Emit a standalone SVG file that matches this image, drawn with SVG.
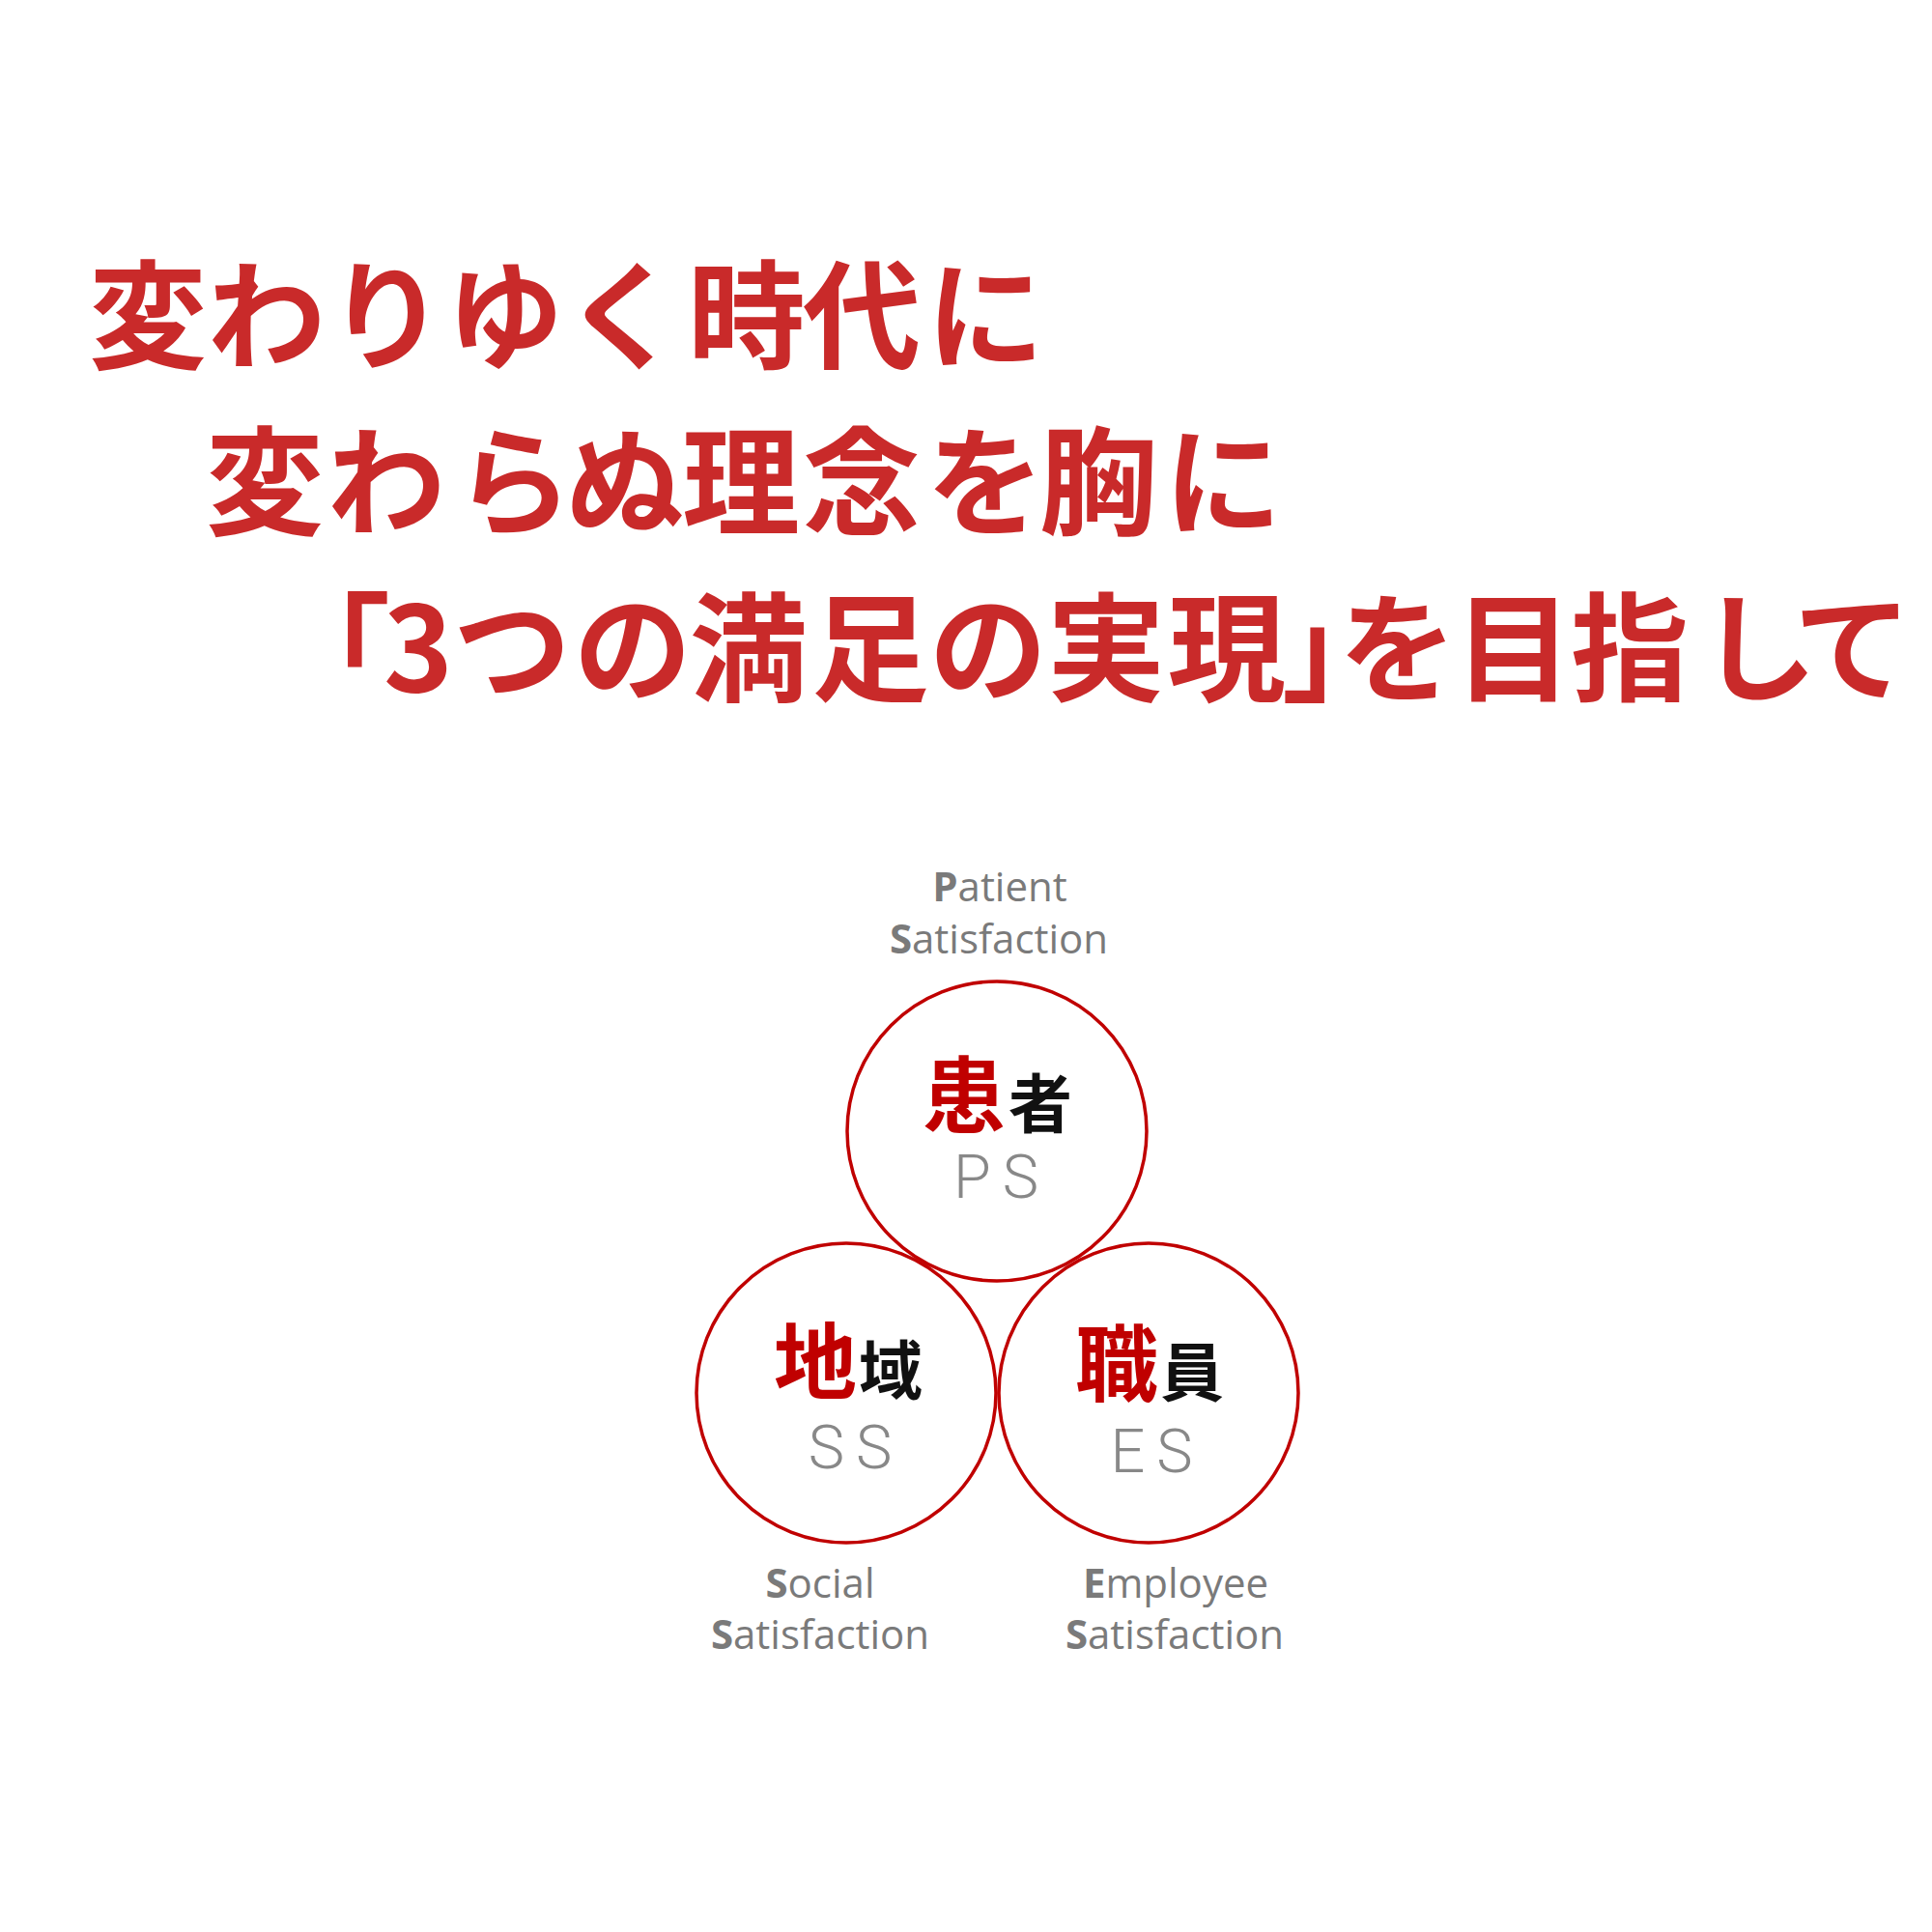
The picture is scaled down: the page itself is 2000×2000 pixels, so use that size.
<svg xmlns="http://www.w3.org/2000/svg" width="2000" height="2000" viewBox="0 0 2000 2000">
<style>
.title{font-family:"Noto Sans CJK JP",sans-serif;font-size:122px;font-weight:700;fill:#c92a2a;text-anchor:middle}
.ring{fill:none;stroke:#c00000;stroke-width:3.5}
.kr{font-family:"Noto Sans CJK JP",sans-serif;font-size:86px;font-weight:700;fill:#c00000;text-anchor:middle}
.kb{font-family:"Noto Sans CJK JP",sans-serif;font-size:66px;font-weight:700;fill:#111;text-anchor:middle}
.ab{font-family:Roboto,sans-serif;font-size:63px;font-weight:300;fill:#888;text-anchor:middle;letter-spacing:12px}
.en{font-family:"Open Sans",sans-serif;font-size:42px;fill:#7a7a7a;text-anchor:middle}
.en tspan.b{font-weight:700}
</style>
<rect width="2000" height="2000" fill="#fff"/>
<g id="title">
<text class="title" x="153 276 400 523 645 773 892 1020" y="372">変わりゆく時代に</text>
<text class="title" x="274 400 532 647 767 892 1020 1137 1266" y="544">変わらぬ理念を胸に</text>
<text class="title" x="343 433 530 655 775 901 1023 1145 1270 1388 1447 1567 1687 1820 1918" y="716">「3つの満足の実現」を目指して</text>
</g>
<g id="connectors"></g>
<g id="node-ps">
<circle class="ring" cx="1032" cy="1171" r="155"/>
<text class="kr" x="998" y="1166">患</text>
<text class="kb" x="1077" y="1167">者</text>
<text class="ab" x="1037" y="1240">PS</text>
<text class="en" y="933"><tspan x="1035"><tspan class="b">P</tspan>atient</tspan></text>
<text class="en" y="987"><tspan x="1034"><tspan class="b">S</tspan>atisfaction</tspan></text>
</g>
<g id="node-ss">
<circle class="ring" cx="876" cy="1442" r="155"/>
<text class="kr" x="844" y="1442">地</text>
<text class="kb" x="922" y="1443">域</text>
<text class="ab" x="886" y="1520">SS</text>
<text class="en" y="1654"><tspan x="849"><tspan class="b">S</tspan>ocial</tspan></text>
<text class="en" y="1707"><tspan x="849"><tspan class="b">S</tspan>atisfaction</tspan></text>
</g>
<g id="node-es">
<circle class="ring" cx="1189" cy="1442" r="155"/>
<text class="kr" x="1156" y="1444">職</text>
<text class="kb" x="1234" y="1445">員</text>
<text class="ab" x="1198" y="1524">ES</text>
<text class="en" y="1654"><tspan x="1217"><tspan class="b">E</tspan>mployee</tspan></text>
<text class="en" y="1707"><tspan x="1216"><tspan class="b">S</tspan>atisfaction</tspan></text>
</g>
</svg>
